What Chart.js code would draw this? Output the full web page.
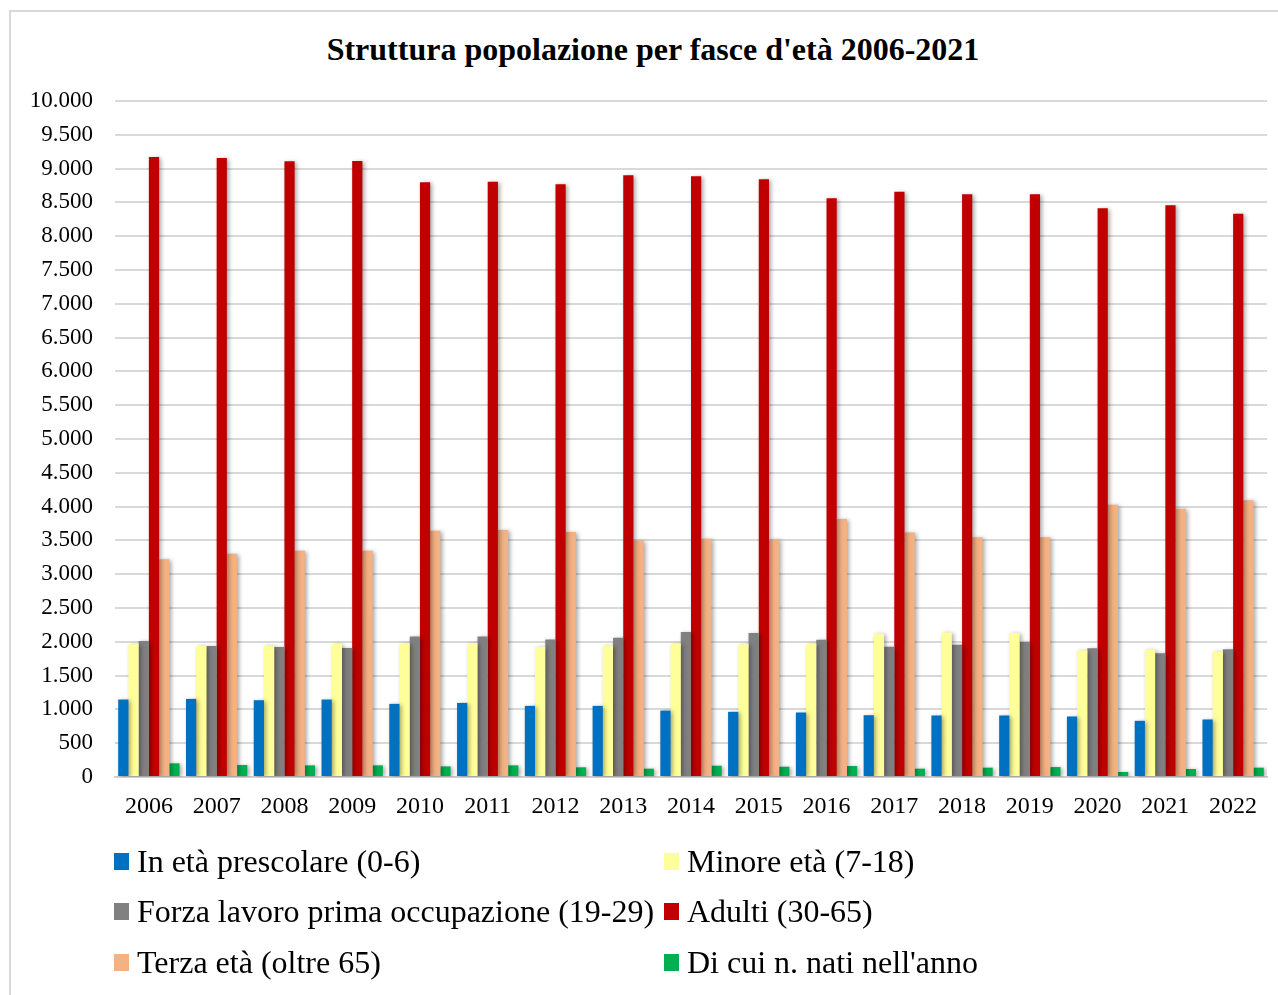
<!DOCTYPE html>
<html>
<head>
<meta charset="utf-8">
<script src="https://cdn.jsdelivr.net/npm/chart.js@4.4.1/dist/chart.umd.min.js"></script>
<style>
  body { margin: 0; background: #fff; overflow: hidden; }
  #wrap { position: relative; width: 1278px; height: 995px; }
  #frame { position: absolute; left: 9px; top: 10px; width: 1300px; height: 1000px; border: 2px solid #d9d9d9; box-sizing: border-box; }
  #title { position: absolute; left: 0; top: 31px; width: 1306px; text-align: center; font: bold 32px "Liberation Serif", serif; color: #000; line-height: 36px; }
  canvas { position: absolute; left: 0; top: 0; }
  .leg { position: absolute; font: 32px "Liberation Serif", serif; color: #000; white-space: nowrap; line-height: 32px; }
  .leg i { position: absolute; left: -23px; top: 8px; width: 15px; height: 17px; }
</style>
</head>
<body>
<div id="wrap">
  <div id="frame"></div>
  <div id="title">Struttura popolazione per fasce d'età 2006-2021</div>
  <canvas id="chart1" width="1278" height="995"></canvas>
  <div id="legend"></div>
</div>
<script>
const years = ['2006','2007','2008','2009','2010','2011','2012','2013','2014','2015','2016','2017','2018','2019','2020','2021','2022'];

const prescolare = [1146,1155,1136,1146,1082,1096,1052,1052,983,964,954,914,910,910,895,831,851];
const minore = [1962,1942,1947,1967,1980,1981,1922,1947,1971,1962,1971,2124,2139,2129,1873,1883,1858];
const forzaLavoro = [2011,1937,1922,1908,2080,2080,2035,2060,2144,2129,2030,1927,1957,1996,1903,1829,1888];
const adulti = [9173,9158,9109,9114,8799,8804,8770,8902,8888,8843,8563,8656,8621,8621,8415,8459,8331];
const terzaEta = [3220,3304,3348,3348,3643,3653,3623,3500,3525,3520,3815,3618,3545,3545,4027,3968,4095];
const nati = [202,177,172,172,157,172,143,123,167,152,162,123,138,147,74,118,138];

const seriesNames = ['In età prescolare (0-6)','Minore età (7-18)','Forza lavoro prima occupazione (19-29)','Adulti (30-65)','Terza età (oltre 65)',"Di cui n. nati nell'anno"];
const seriesColors = ['#0070C0','#FFFF99','#808080','#C00000','#F4B183','#00B050'];
const seriesData = [prescolare, minore, forzaLavoro, adulti, terzaEta, nati];

// legend in 2 columns, like the original
const legendPos = [[137,845],[687,845],[137,895],[687,895],[137,946],[687,946]];
const legendEl = document.getElementById('legend');
seriesNames.forEach((name, i) => {
  const d = document.createElement('div');
  d.className = 'leg';
  d.style.left = legendPos[i][0] + 'px';
  d.style.top = legendPos[i][1] + 'px';
  d.innerHTML = '<i style="background:' + seriesColors[i] + '"></i>' + name;
  legendEl.appendChild(d);
});

// soft shadow behind bars
const barShadow = {
  id: 'barShadow',
  beforeDatasetsDraw(chart) {
    const c = chart.ctx;
    c.save();
    c.shadowColor = 'rgba(0,0,0,0.35)';
    c.shadowBlur = 4;
    c.shadowOffsetX = 2;
    c.shadowOffsetY = 1;
  },
  afterDatasetsDraw(chart) {
    chart.ctx.restore();
  }
};

const fmt = v => String(v).replace(/\B(?=(\d{3})+(?!\d))/g, '.');

const ctx = document.getElementById('chart1').getContext('2d');
new Chart(ctx, {
  type: 'bar',
  data: {
    labels: years,
    datasets: seriesData.map((d, i) => ({
      label: seriesNames[i],
      data: d,
      backgroundColor: seriesColors[i],
      borderWidth: 0,
      barPercentage: 1,
      categoryPercentage: 0.905
    }))
  },
  plugins: [barShadow],
  options: {
    responsive: false,
    animation: false,
    layout: { padding: { left: 0, right: 11, top: 101, bottom: 178 } },
    plugins: {
      legend: { display: false },
      title: { display: false },
      tooltip: { enabled: false }
    },
    scales: {
      x: {
        grid: { display: false, drawTicks: false },
        border: { display: true, color: '#d0d0d0', width: 2 },
        ticks: { color: '#000', font: { family: 'Liberation Serif', size: 24 }, padding: 15, maxRotation: 0 },
        afterFit(scale) { scale.height = 40; }
      },
      y: {
        min: 0,
        max: 10000,
        grid: { color: '#d9d9d9', lineWidth: 2, drawTicks: false },
        border: { display: false },
        ticks: { stepSize: 500, color: '#000', font: { family: 'Liberation Serif', size: 23 }, padding: 22, callback: v => fmt(v) },
        afterFit(scale) { scale.width = 115; }
      }
    }
  }
});
</script>
</body>
</html>
